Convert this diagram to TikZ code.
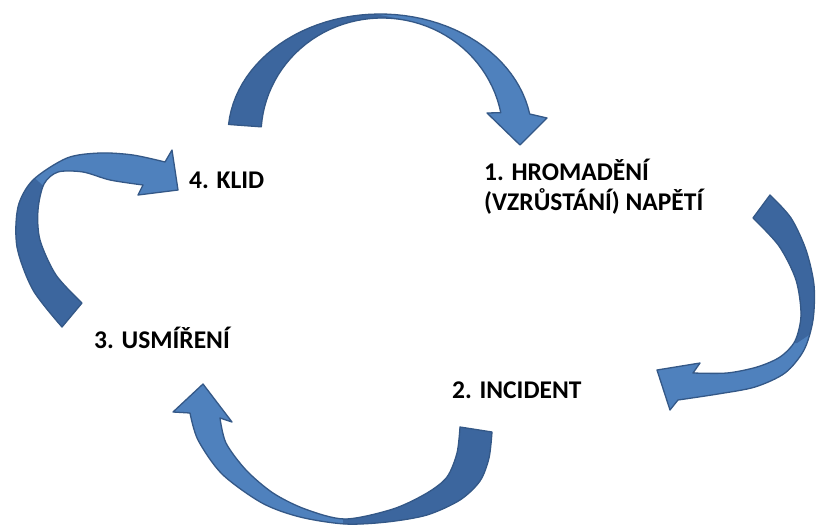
\documentclass[tikz,border=0pt]{standalone}
\usepackage{fontspec}
\setmainfont{Carlito}
\definecolor{arlight}{RGB}{79,129,189}
\definecolor{ardark}{RGB}{60,102,158}
\definecolor{arborder}{RGB}{52,88,135}
\begin{document}
\begin{tikzpicture}[x=1pt,y=-1pt,
  lbl/.style={anchor=base west,inner sep=0pt,font=\bfseries\fontsize{25.5}{30}\selectfont,text=black},
  edge/.style={draw=arborder,line width=1.3pt,line join=round}]
\useasboundingbox[fill=white] (0,0) rectangle (816,525);

% ---------- arrow 1 (top: 4 -> 1)
\path[save path=\pA]
  plot[domain=175:10,samples=50,variable=\t] ({380+152*cos(\t)},{135-121*sin(\t)})
  -- (547,118) -- (520,145) -- (487,113)
  -- plot[domain=11:176,samples=50,variable=\t] ({382+121*cos(\t)},{135-117*sin(\t)})
  -- cycle;
\fill[arlight,use path=\pA];
\begin{scope}
  \clip[use path=\pA];
  \fill[ardark] (375,-20) -- (375,14) -- (400,19) -- (400,200) -- (150,200) -- (150,-20) -- cycle;
\end{scope}
\path[edge,use path=\pA];

% ---------- arrow 2 (right: 1 -> 2)
\path[save path=\pB]
  plot[smooth] coordinates {(770,195) (791,218) (806,250) (814,285) (813,320) (804,350) (785,373) (755,387) (718,394) (678,400)}
  -- (670,410) -- (657,370) -- (700,363) -- (693,373)
  -- plot[smooth] coordinates {(693,373) (727,373) (757,367) (780,357) (795,341) (801,315) (796,280) (779,246) (753,218)}
  -- cycle;
\fill[arlight,use path=\pB];
\begin{scope}
  \clip[use path=\pB];
  \fill[ardark] (700,150) -- (850,150) -- (850,333) -- (812,333) -- (797,343) -- (700,343) -- cycle;
\end{scope}
\path[edge,use path=\pB];

% ---------- arrow 3 (bottom: 2 -> 3)
\path[save path=\pC]
  plot[smooth] coordinates {(492,432) (489,458) (480,481) (460,500) (427,515) (387,522) (345,524) (300,517) (262,503) (222,474) (198,440) (190,413)}
  -- (173,412) -- (203,384) -- (232,422) -- (220,418)
  -- plot[smooth] coordinates {(220,418) (226,443) (246,470) (273,493) (305,509) (345,519) (393,509) (427,493) (447,477) (457,453) (460,427)}
  -- cycle;
\fill[arlight,use path=\pC];
\begin{scope}
  \clip[use path=\pC];
  \fill[ardark] (343,400) rectangle (520,540);
\end{scope}
\path[edge,use path=\pC];

% ---------- arrow 4 (left: 3 -> 4)
\path[save path=\pD]
  plot[smooth] coordinates {(62,327) (33,290) (17,247) (18,207) (33,180) (67,158) (100,153) (133,155) (165,162)}
  -- (172,150) -- (178,190) -- (138,195) -- (143,185)
  -- plot[smooth] coordinates {(143,185) (110,180) (83,172) (58,172) (44,184) (38,210) (40,240) (56,275) (82,303)}
  -- cycle;
\fill[arlight,use path=\pD];
\begin{scope}
  \clip[use path=\pD];
  \fill[ardark] (-10,165) -- (28,172) -- (50,192) -- (110,340) -- (-10,340) -- cycle;
\end{scope}
\path[edge,use path=\pD];

% ---------- labels
\node[lbl] (klid) at (189,188) {4. KLID};
\node[lbl] (hrom) at (484,180) {1. HROMADĚNÍ};
\node[lbl] (napeti) at (484,210) {(VZRŮSTÁNÍ) NAPĚTÍ};
\node[lbl] (usmir) at (94,348) {3. USMÍŘENÍ};
\node[lbl] (incid) at (452,398) {2. INCIDENT};
\end{tikzpicture}
\end{document}
